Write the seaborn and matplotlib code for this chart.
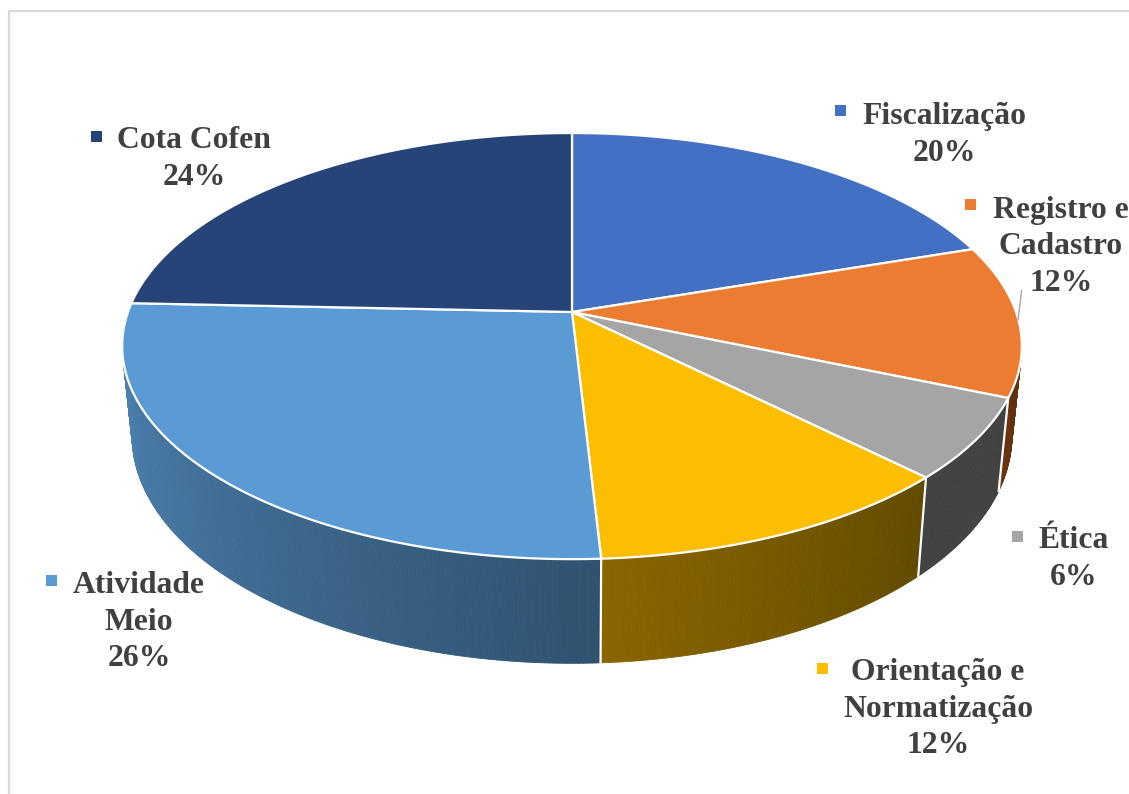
"""Fake perspective 3D pie of the budget shares, drawn on a pixel sized axes."""

import matplotlib

matplotlib.use("Agg")

import matplotlib.pyplot as plt
import numpy as np
import seaborn as sns
from matplotlib.patches import Polygon, Rectangle

categories = ["Fiscalização", "Registro e\nCadastro", "Ética",
              "Orientação e\nNormatização", "Atividade\nMeio", "Cota Cofen"]
shares = [19.85, 11.5, 6.15, 11.62, 26.56, 24.32]
percent_labels = ["20%", "12%", "6%", "12%", "26%", "24%"]

top_colors = ["#4370C2", "#EB7C31", "#A5A5A5", "#FBBE00", "#5B9BD5", "#264478"]
wall_left = ["#2A4577", "#6B3410", "#424242", "#8A6600", "#5189BC", "#162A4A"]
wall_right = ["#2A4577", "#5A2C0E", "#424242", "#624A00", "#30526F", "#162A4A"]

# label anchor in pixels, text is centred there
label_pos = [(944, 135), (1061, 247), (1074, 559), (938, 709), (139, 622), (194, 159)]
key_pos = [(840, 110), (970, 204), (1017, 536), (822, 668), (51, 580), (96, 136)]

WIDTH, HEIGHT = 1129, 794
CX, CY = 572, 312
RX, RY = 444, 207.6
TILT = 0.16
DEPTH = 87.5
BASE_SCALE = 0.978


def rim(theta, bottom=False):
    """Project pie angles (clockwise from 12 o'clock) to pixel positions."""
    xs, ys = np.sin(theta), np.cos(theta)
    w = 1 + TILT * ys
    px = RX * xs / w
    py = CY - RY * ys / w
    if bottom:
        return np.column_stack([CX + BASE_SCALE * px, py + DEPTH / w])
    return np.column_stack([CX + px, py])


sns.set_theme(style="white")
plt.rcParams["font.family"] = ["Liberation Serif", "DejaVu Serif"]

fig = plt.figure(figsize=(WIDTH / 100, HEIGHT / 100), dpi=100)
ax = fig.add_axes([0, 0, 1, 1])
ax.set_xlim(0, WIDTH)
ax.set_ylim(HEIGHT, 0)
ax.axis("off")

# chart frame, only top and left show up in the crop
ax.plot([8.5, 8.5, WIDTH], [HEIGHT, 11, 11], color="#D9D9D9", lw=1.6, zorder=1)

edges = np.deg2rad(np.cumsum([0] + shares) * 3.6)
edges = edges * (2 * np.pi) / edges[-1]
palette = sns.color_palette(top_colors)

# side walls first, the top face hides whatever faces backwards
for i in range(len(shares)):
    t0, t1 = edges[i], edges[i + 1]
    lo, hi = max(t0, np.pi * 0.42), min(t1, np.pi * 1.58)
    if lo >= hi:
        continue
    n = max(int((hi - lo) * 120), 2)
    ts = np.linspace(hi, lo, n + 1)  # runs left to right on screen
    c_left = np.array(matplotlib.colors.to_rgb(wall_left[i]))
    c_right = np.array(matplotlib.colors.to_rgb(wall_right[i]))
    for j in range(n):
        seg = np.array([ts[j], ts[j + 1]])
        quad = np.vstack([rim(seg), rim(seg[::-1], bottom=True)])
        col = c_left + (c_right - c_left) * j / max(n - 1, 1)
        ax.add_patch(Polygon(quad, closed=True, facecolor=col, edgecolor=col, lw=0.6, zorder=2))

# white seams between the walls
for t in edges[2:5]:
    pts = np.vstack([rim(np.array([t])), rim(np.array([t]), bottom=True)])
    ax.plot(pts[:, 0], pts[:, 1], color="white", lw=1.6, zorder=3)

# top face
for i, color in enumerate(palette):
    ts = np.linspace(edges[i], edges[i + 1], 200)
    pts = np.vstack([[CX, CY], rim(ts)])
    ax.add_patch(Polygon(pts, closed=True, facecolor=color, edgecolor="white",
                         lw=1.6, joinstyle="round", zorder=4))

# leader line of the Registro label
ax.plot([1021.7, 1018], [290, 320], color="#A6A6A6", lw=1.0, zorder=5)

for name, pct, (lx, ly), (kx, ky), color in zip(categories, percent_labels, label_pos, key_pos, palette):
    ax.text(lx, ly, f"{name}\n{pct}", ha="center", va="center", fontsize=22.8,
            fontweight="bold", color="#404040", linespacing=1.32, zorder=6)
    ax.add_patch(Rectangle((kx - 5.5, ky - 5.5), 11, 11, facecolor=color, edgecolor="none", zorder=6))

fig.savefig("out.png", dpi=100, facecolor="white")
